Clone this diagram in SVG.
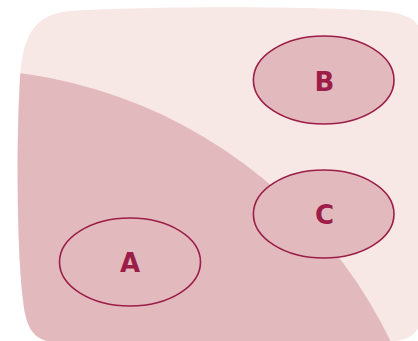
<svg xmlns="http://www.w3.org/2000/svg" width="418" height="341" viewBox="0 0 418 341">
<defs>
<style>
.node ellipse{fill:#e2babe;stroke:#9b1d48;stroke-width:1.6}
.node text{font-family:"DejaVu Sans",sans-serif;font-weight:bold;font-size:26px;fill:#9b1d48;text-anchor:middle}
</style>
<clipPath id="blobclip"><path d="M70,11 C150,6 330,6 390,12 C410,15 418,22 420,30 L420,325 C415,336 405,340 395,341 L55,342 C35,341 26,330 23,300 C17,250 16,150 20,78 C23,30 38,14 70,11 Z"/></clipPath>
</defs>
<g id="background">
<path d="M70,11 C150,6 330,6 390,12 C410,15 418,22 420,30 L420,325 C415,336 405,340 395,341 L55,342 C35,341 26,330 23,300 C17,250 16,150 20,78 C23,30 38,14 70,11 Z" fill="#f7e8e5"/>
<circle cx="-42.5" cy="549.5" r="480.5" fill="#e2babe" clip-path="url(#blobclip)"/>
</g>
<g id="connectors"></g>
<g id="A" class="node"><ellipse cx="130" cy="262" rx="70.5" ry="44"/><text x="130" y="272">A</text></g>
<g id="B" class="node"><ellipse cx="323.7" cy="80" rx="70.3" ry="44"/><text x="324.5" y="91">B</text></g>
<g id="C" class="node"><ellipse cx="323.7" cy="214" rx="70.3" ry="44"/><text x="324.5" y="224">C</text></g>
</svg>
